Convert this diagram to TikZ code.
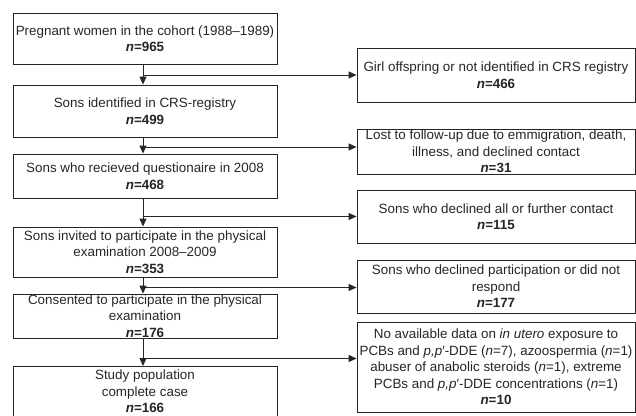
\documentclass[tikz,border=0pt]{standalone}
\usepackage{fontspec}
\setmainfont{Liberation Sans}
\usetikzlibrary{arrows.meta}
\begin{document}
\begin{tikzpicture}[x=1pt,y=-1pt,
  box/.style={draw=black!85, line width=0.9pt, inner sep=0pt, align=center,
    font=\fontsize{13.4}{16.5}\selectfont, text=black!85},
  lbox/.style={box, minimum width=264pt},
  rbox/.style={box, minimum width=278pt},
  arr/.style={draw=black!85, line width=0.9pt, -{Triangle[length=8pt,width=7pt]}}]
\useasboundingbox (0,0) rectangle (636,415);
% left column
\node[lbox, minimum height=51pt] (b1) at (145,38.5) {Pregnant women in the cohort (1988–1989)\\\textbf{\textit{n}=965}};
\node[lbox, minimum height=52pt] (b2) at (145,111) {Sons identified in CRS-registry\\\textbf{\textit{n}=499}};
\node[lbox, minimum height=44pt] (b3) at (145,176) {Sons who recieved questionaire in 2008\\\textbf{\textit{n}=468}};
\node[lbox, minimum height=50pt] (b4) at (145,252) {Sons invited to participate in the physical\\examination 2008–2009\\\textbf{\textit{n}=353}};
\node[lbox, minimum height=44pt] (b5) at (145,316) {Consented to participate in the physical\\examination\\\textbf{\textit{n}=176}};
\node[lbox, minimum height=50pt] (b6) at (145,391.5) {Study population\\complete case\\\textbf{\textit{n}=166}};
% right column
\node[rbox, minimum height=54pt] (r1) at (496,75) {Girl offspring or not identified in CRS registry\\\textbf{\textit{n}=466}};
\node[rbox, minimum height=45pt] (r2) at (496,151.5) {Lost to follow-up due to emmigration, death,\\illness, and declined contact\\\textbf{\textit{n}=31}};
\node[rbox, minimum height=53pt] (r3) at (496,216.5) {Sons who declined all or further contact\\\textbf{\textit{n}=115}};
\node[rbox, minimum height=53pt] (r4) at (496,286.5) {Sons who declined participation or did not\\respond\\\textbf{\textit{n}=177}};
\node[rbox, minimum height=90pt] (r5) at (496,367) {No available data on \textit{in utero} exposure to\\PCBs and \textit{p,p}′-DDE (\textit{n}=7), azoospermia (\textit{n}=1)\\abuser of anabolic steroids (\textit{n}=1), extreme\\PCBs and \textit{p,p}′-DDE concentrations (\textit{n}=1)\\\textbf{\textit{n}=10}};
% junctions
\coordinate (j1) at (143,75);
\coordinate (j2) at (143,147);
\coordinate (j3) at (143,216.5);
\coordinate (j4) at (143,287.5);
\coordinate (j5) at (143,358.5);
% vertical arrows
\draw[arr] (j1 |- b1.south) -- (j1 |- b2.north);
\draw[arr] (j2 |- b2.south) -- (j2 |- b3.north);
\draw[arr] (j3 |- b3.south) -- (j3 |- b4.north);
\draw[arr] (j4 |- b4.south) -- (j4 |- b5.north);
\draw[arr] (j5 |- b5.south) -- (j5 |- b6.north);
% horizontal arrows
\draw[arr] (j1) -- (r1.west |- j1);
\draw[arr] (j2) -- (r2.west |- j2);
\draw[arr] (j3) -- (r3.west |- j3);
\draw[arr] (j4) -- (r4.west |- j4);
\draw[arr] (j5) -- (r5.west |- j5);
\end{tikzpicture}
\end{document}
